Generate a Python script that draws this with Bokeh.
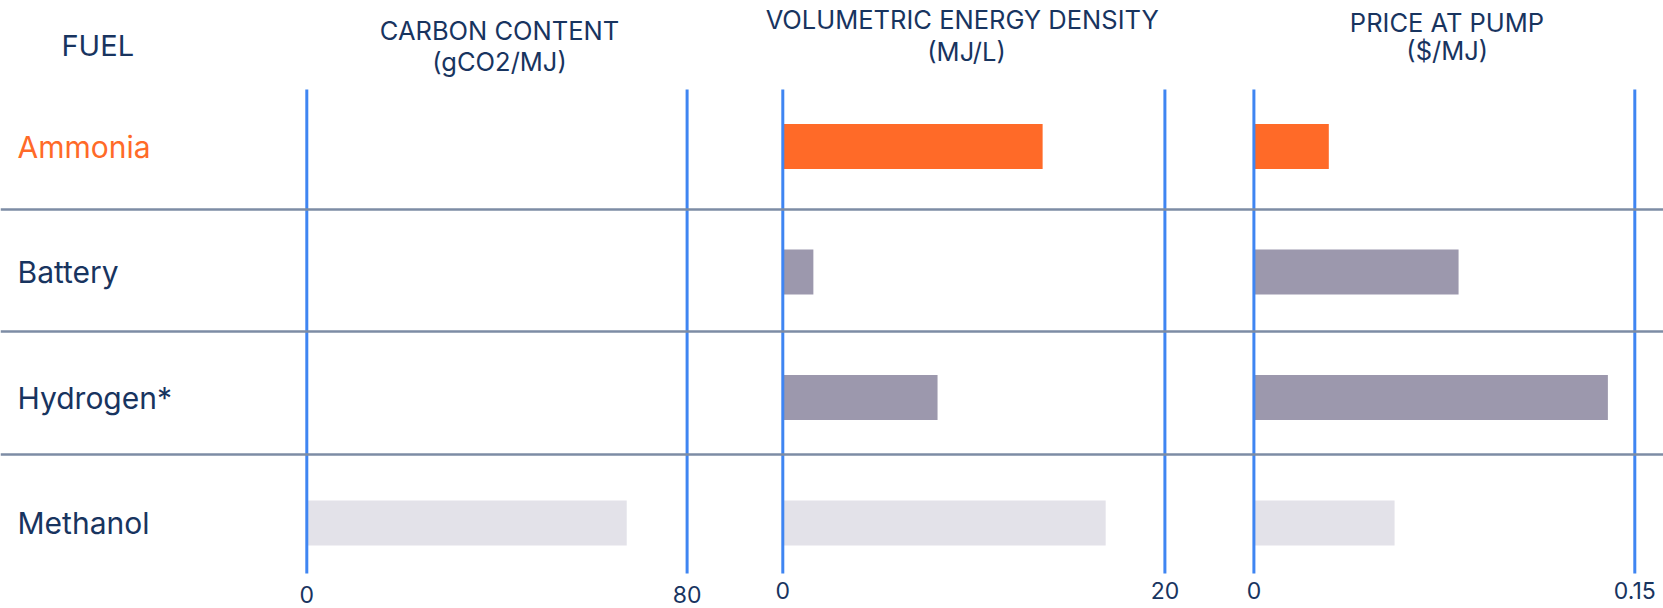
from bokeh.plotting import figure
from bokeh.models import Range1d, Span
from bokeh.core.properties import value
from bokeh.embed import file_html
from bokeh.resources import INLINE

# ---------------- data ----------------
fuels = ["Ammonia", "Battery", "Hydrogen*", "Methanol"]
carbon_content = [0, 0, 0, 67.3]          # gCO2/MJ
energy_density = [13.6, 1.6, 8.1, 16.9]   # MJ/L
price_at_pump = [0.0295, 0.0806, 0.1394, 0.0554]  # $/MJ

panel_titles = [["CARBON CONTENT", "(gCO2/MJ)"],
                ["VOLUMETRIC ENERGY DENSITY", "(MJ/L)"],
                ["PRICE AT PUMP", "($/MJ)"]]
panel_max = [80, 20, 0.15]
tick_labels = [["0", "80"], ["0", "20"], ["0", "0.15"]]
fuel_header = "FUEL"

# ---------------- style / layout ----------------
W, H = 1663, 608
FONT = "Inter"
NAVY = "#18345F"
ORANGE = "#FF6A28"
BLUE = "#3F85F2"
SEP = "#7D8CA5"
fuel_colors = [ORANGE, "#9C98AD", "#9C98AD", "#E3E2E9"]
label_colors = [ORANGE, NAVY, NAVY, NAVY]

# pixel extents of each panel's 0 and max line
panel_px = [(306.3, 686.6), (782.3, 1164.4), (1253.4, 1634.3)]
panel_names = ["carbon", "density", "price"]
panel_values = [carbon_content, energy_density, price_at_pump]
tick_y = [594, 590, 590]
sep_y = [209, 331, 454]

row0, row_step = 146.0, 125.5
p = figure(width=W, height=H, output_backend="svg", toolbar_location=None,
           x_axis_type=None, y_axis_type=None,
           x_range=Range1d(0, W),
           y_range=Range1d((H - row0) / row_step, -row0 / row_step),
           min_border=0, min_border_left=0, min_border_right=0,
           min_border_top=0, min_border_bottom=0)
p.outline_line_color = None
p.grid.visible = False
p.background_fill_color = "white"
p.extra_y_ranges = {"px": Range1d(H, 0)}

for name, (a, b), vmax in zip(panel_names, panel_px, panel_max):
    scale = (b - a) / vmax
    p.extra_x_ranges[name] = Range1d(-a / scale, (W - a) / scale)

# row separators
for loc in sep_y:
    p.add_layout(Span(location=loc, dimension="width", line_color=SEP,
                      line_width=2.5, y_range_name="px"))

idx = list(range(len(fuels)))
bar_h = 0.36

for name, vals, vmax, ticks, ty in zip(panel_names, panel_values, panel_max,
                                       tick_labels, tick_y):
    p.hbar(y=idx, left=0, right=vals, height=bar_h, fill_color=fuel_colors,
           line_color=None, x_range_name=name)
    p.segment(x0=[0, vmax], x1=[0, vmax], y0=[89, 89], y1=[573, 573],
              line_color=BLUE, line_width=3, x_range_name=name, y_range_name="px")
    p.text(x=[0, vmax], y=[ty, ty], text=ticks, text_font=value(FONT),
           text_font_size="23px", text_color=NAVY, text_align="center",
           text_baseline="middle", x_range_name=name, y_range_name="px")

# fuel labels
p.text(x=[17] * 4, y=idx, text=fuels, text_font=value(FONT),
       text_font_size="30px", text_color=label_colors, text_align="left",
       text_baseline="middle")

# headers
def header(txt, x, cap_center, size, align="center"):
    p.text(x=[x], y=[cap_center], text=[txt],
           text_font=value(FONT), text_font_size=f"{size}px", text_color=NAVY,
           text_align=align, text_baseline="middle", y_range_name="px")

header(fuel_header, 61, 44.7, 29, align="left")
hx = [(499, 499), (961.7, 966), (1446.5, 1446.7)]
hy = [(30, 61), (19, 51), (22.3, 50)]
for (l1, l2), (x1, x2), (y1, y2) in zip(panel_titles, hx, hy):
    header(l1, x1, y1, 25.5)
    header(l2, x2, y2, 25.5)

open("out.html", "w").write(file_html(p, INLINE))
